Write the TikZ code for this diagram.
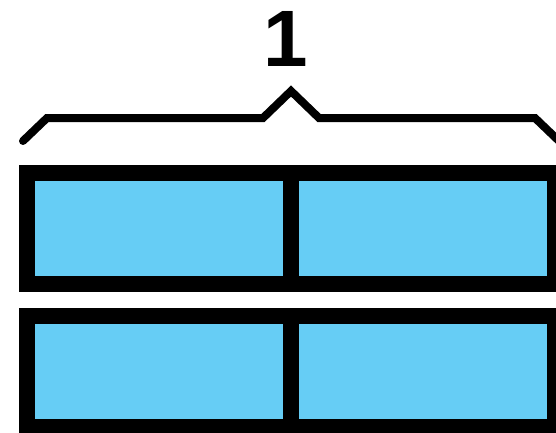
\documentclass[tikz,border=0pt]{standalone}
\usepackage{fontspec}
\setmainfont{Liberation Sans}
\usetikzlibrary{positioning}
\definecolor{cellblue}{RGB}{102,205,245}
\tikzset{
  cell/.style={draw, line width=16pt, fill=cellblue, inner sep=0pt, outer sep=0pt, minimum width=264pt, minimum height=111pt},
  bracket/.style={line width=8pt, line cap=round, miter limit=10},
  count/.style={font=\fontsize{80}{80}\bfseries\selectfont, inner sep=0pt, anchor=base}
}
\begin{document}
\begin{tikzpicture}[x=1pt,y=-1pt]
  \useasboundingbox (0,0) rectangle (556,433);
  % top bar
  \node[cell] (topleft) at (159,228.5) {};
  \node[cell,right=0pt of topleft] (topright) {};
  % bottom bar
  \node[cell] (botleft) at (159,371.5) {};
  \node[cell,right=0pt of botleft] (botright) {};
  % bracket over the top bar
  \coordinate (apex) at (topleft.north east |- 0,91);
  \draw[bracket] (23,141) -- (47,118) -- (263,118) -- (apex) -- (319,118) -- (535,118) -- (559,141);
  \node[count] (one) at (286,67) {1};
\end{tikzpicture}
\end{document}
